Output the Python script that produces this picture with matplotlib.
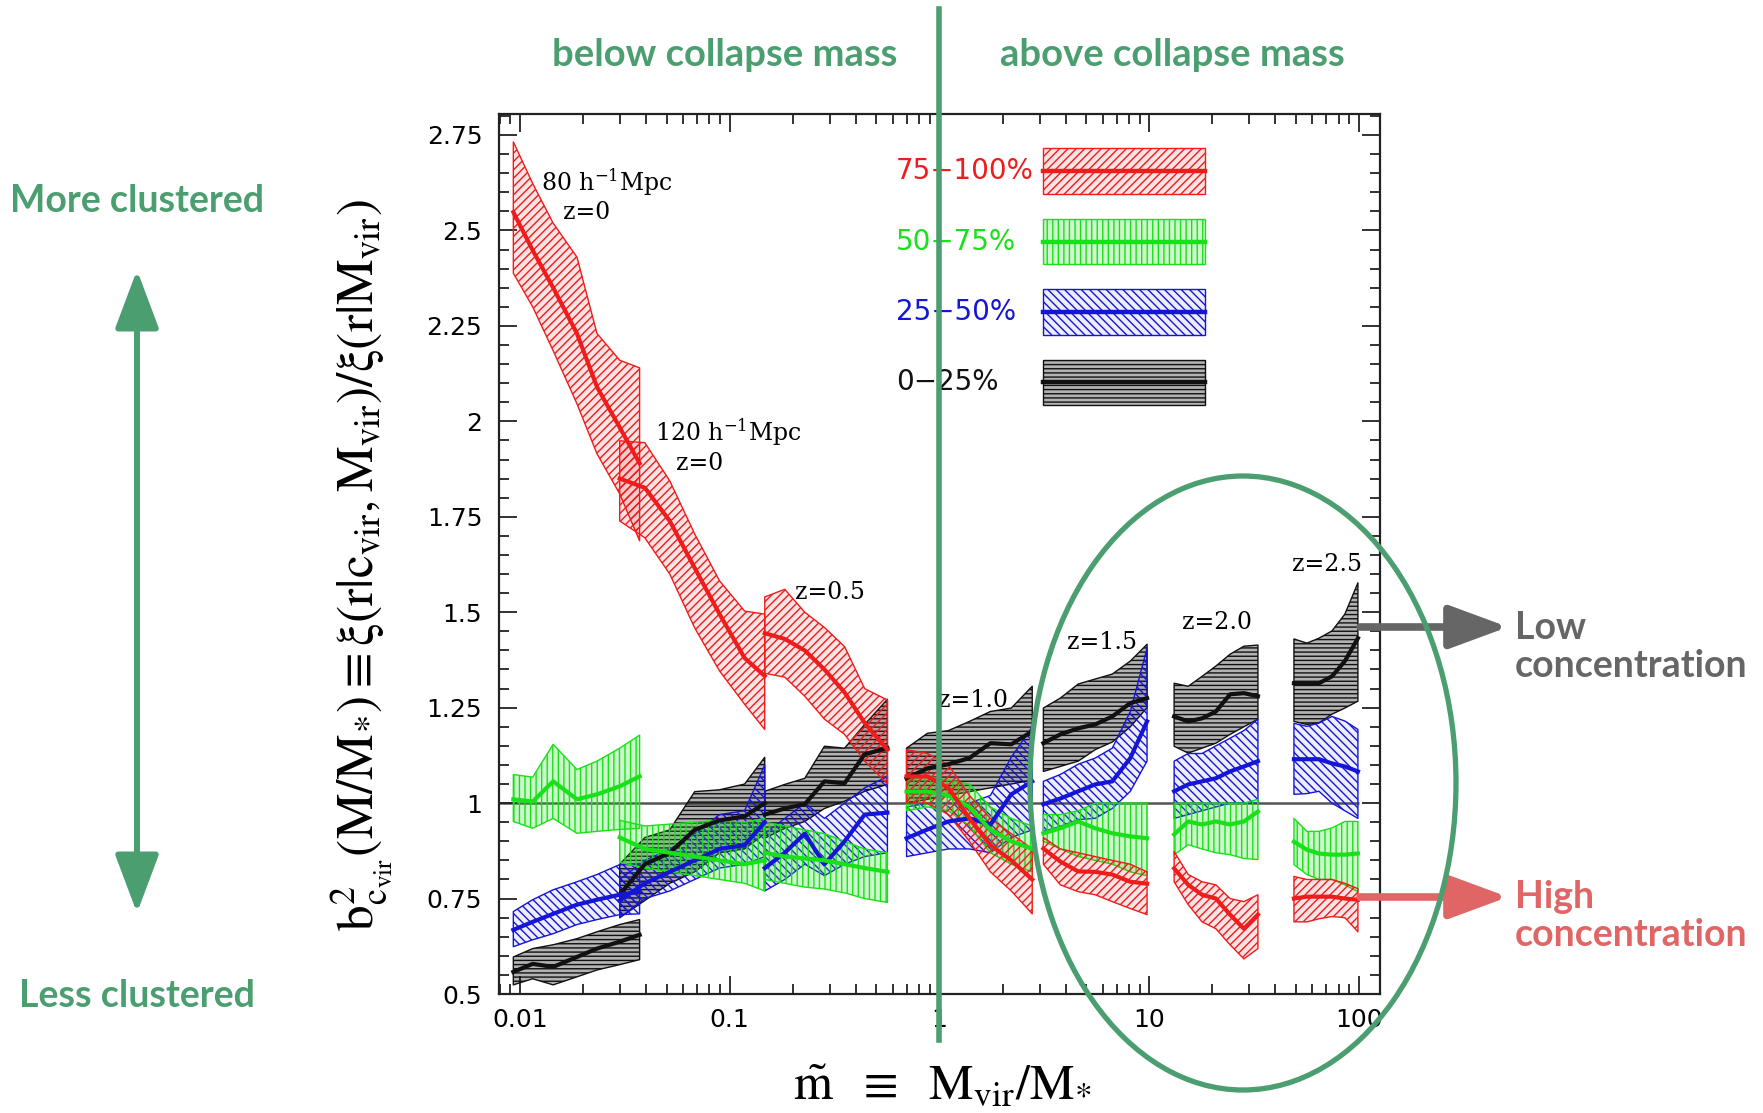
import matplotlib
matplotlib.use("Agg")
import matplotlib.pyplot as plt
from matplotlib.patches import Ellipse, Rectangle
from matplotlib.ticker import FixedLocator, LogLocator, NullFormatter, FixedFormatter

plt.rcParams["hatch.linewidth"] = 1.0

# mass bins (M_vir / M_*) of the seven box / redshift chunks
x_bins = [
    [0.0093, 0.0115, 0.0144, 0.0187, 0.0233, 0.0299, 0.0372],   # 80 Mpc, z=0
    [0.0299, 0.0394, 0.0518, 0.0681, 0.0895, 0.1178, 0.1469],   # 120 Mpc, z=0
    [0.147, 0.183, 0.228, 0.283, 0.353, 0.44, 0.565],           # z=0.5
    [0.697, 0.877, 1.104, 1.39, 1.75, 2.20, 2.77],              # z=1.0
    [3.13, 3.77, 4.59, 5.53, 6.67, 8.13, 9.77],                 # z=1.5
    [13.15, 15.35, 17.87, 20.8, 24.3, 28.3, 33.0],              # z=2.0
    [49.0, 56.5, 64.5, 74.4, 85.7, 98.9],                       # z=2.5
]

# 75-100% quartile (red)
red_mid = [
    [2.548, 2.448, 2.35, 2.23, 2.09, 1.984, 1.89],
    [1.850, 1.826, 1.739, 1.616, 1.495, 1.380, 1.333],
    [1.445, 1.43, 1.40, 1.35, 1.29, 1.21, 1.14],
    [1.07, 1.07, 1.04, 0.96, 0.89, 0.85, 0.80],
    [0.881, 0.847, 0.821, 0.82, 0.813, 0.794, 0.789],
    [0.829, 0.786, 0.760, 0.750, 0.708, 0.671, 0.708],
    [0.750, 0.755, 0.755, 0.755, 0.750, 0.747],
]
red_hi = [
    [2.732, 2.623, 2.519, 2.43, 2.23, 2.16, 2.14],
    [1.949, 1.944, 1.844, 1.705, 1.582, 1.503, 1.495],
    [1.54, 1.56, 1.50, 1.46, 1.41, 1.30, 1.27],
    [1.14, 1.13, 1.10, 1.02, 0.96, 0.92, 0.88],
    [0.91, 0.88, 0.87, 0.86, 0.85, 0.84, 0.82],
    [0.873, 0.813, 0.794, 0.786, 0.750, 0.742, 0.760],
    [0.808, 0.800, 0.800, 0.80, 0.79, 0.776],
]
red_lo = [
    [2.388, 2.30, 2.185, 2.046, 1.915, 1.81, 1.687],
    [1.739, 1.695, 1.600, 1.459, 1.346, 1.259, 1.193],
    [1.34, 1.33, 1.28, 1.22, 1.18, 1.11, 1.05],
    [1.00, 1.00, 0.97, 0.90, 0.82, 0.77, 0.71],
    [0.84, 0.786, 0.768, 0.760, 0.742, 0.724, 0.708],
    [0.794, 0.734, 0.689, 0.671, 0.629, 0.592, 0.619],
    [0.689, 0.689, 0.697, 0.703, 0.70, 0.663],
]

# 50-75% quartile (green)
green_mid = [
    [1.010, 1.004, 1.057, 1.010, 1.023, 1.044, 1.070],
    [0.91, 0.88, 0.87, 0.86, 0.85, 0.84, 0.85],
    [0.87, 0.86, 0.855, 0.85, 0.84, 0.83, 0.82],
    [1.03, 1.03, 1.02, 0.99, 0.93, 0.90, 0.88],
    [0.921, 0.934, 0.952, 0.934, 0.921, 0.913, 0.908],
    [0.918, 0.952, 0.944, 0.952, 0.944, 0.952, 0.978],
    [0.899, 0.878, 0.868, 0.865, 0.865, 0.868],
]
green_hi = [
    [1.075, 1.068, 1.154, 1.088, 1.110, 1.144, 1.178],
    [0.955, 0.94, 0.945, 0.95, 0.955, 0.95, 0.96],
    [0.95, 0.94, 0.93, 0.92, 0.90, 0.88, 0.87],
    [1.06, 1.07, 1.06, 1.05, 0.99, 0.96, 0.94],
    [0.97, 0.97, 0.98, 1.00, 1.00, 1.00, 1.00],
    [1.0, 1.0, 1.0, 1.0, 1.0, 1.0, 1.01],
    [0.960, 0.926, 0.926, 0.935, 0.952, 0.952],
]
green_lo = [
    [0.952, 0.934, 0.960, 0.921, 0.926, 0.931, 0.934],
    [0.845, 0.83, 0.82, 0.81, 0.80, 0.79, 0.77],
    [0.80, 0.79, 0.78, 0.775, 0.765, 0.75, 0.74],
    [0.98, 0.99, 0.98, 0.94, 0.87, 0.84, 0.82],
    [0.90, 0.88, 0.86, 0.85, 0.84, 0.82, 0.81],
    [0.865, 0.891, 0.88, 0.87, 0.865, 0.855, 0.852],
    [0.839, 0.813, 0.80, 0.80, 0.786, 0.768],
]

# 25-50% quartile (blue)
blue_mid = [
    [0.668, 0.689, 0.710, 0.734, 0.747, 0.760, 0.768],
    [0.745, 0.79, 0.82, 0.85, 0.88, 0.89, 0.95],
    [0.83, 0.87, 0.92, 0.84, 0.90, 0.97, 0.975],
    [0.908, 0.931, 0.952, 0.960, 0.944, 1.023, 1.057],
    [0.997, 1.012, 1.031, 1.049, 1.057, 1.118, 1.214],
    [1.031, 1.049, 1.057, 1.065, 1.083, 1.096, 1.110],
    [1.115, 1.115, 1.115, 1.104, 1.096, 1.083],
]
blue_hi = [
    [0.716, 0.747, 0.773, 0.794, 0.813, 0.839, 0.842],
    [0.80, 0.85, 0.88, 0.92, 0.97, 0.98, 1.10],
    [0.92, 0.96, 1.00, 0.96, 1.00, 1.04, 1.07],
    [0.99, 1.0, 1.0, 1.0, 1.02, 1.12, 1.20],
    [1.057, 1.075, 1.102, 1.118, 1.144, 1.240, 1.406],
    [1.11, 1.13, 1.13, 1.15, 1.17, 1.19, 1.22],
    [1.209, 1.201, 1.21, 1.227, 1.215, 1.193],
]
blue_lo = [
    [0.624, 0.642, 0.658, 0.682, 0.695, 0.708, 0.710],
    [0.70, 0.75, 0.77, 0.80, 0.83, 0.84, 0.86],
    [0.77, 0.80, 0.84, 0.81, 0.84, 0.86, 0.87],
    [0.86, 0.87, 0.88, 0.88, 0.87, 0.91, 0.93],
    [0.926, 0.939, 0.957, 0.960, 0.986, 1.031, 1.110],
    [0.96, 0.97, 0.98, 0.99, 1.0, 1.0, 1.0],
    [1.023, 1.025, 1.031, 1.0, 0.98, 0.960],
]

# 0-25% quartile (black)
black_mid = [
    [0.558, 0.579, 0.571, 0.597, 0.619, 0.637, 0.655],
    [0.76, 0.84, 0.87, 0.93, 0.955, 0.965, 1.00],
    [0.970, 0.986, 0.997, 1.057, 1.052, 1.128, 1.144],
    [1.065, 1.091, 1.102, 1.118, 1.157, 1.154, 1.188],
    [1.157, 1.180, 1.196, 1.206, 1.227, 1.262, 1.275],
    [1.227, 1.214, 1.222, 1.240, 1.285, 1.288, 1.280],
    [1.314, 1.312, 1.314, 1.332, 1.372, 1.432],
]
black_hi = [
    [0.597, 0.619, 0.629, 0.645, 0.663, 0.682, 0.695],
    [0.84, 0.91, 0.93, 1.03, 1.035, 1.05, 1.12],
    [1.031, 1.049, 1.065, 1.149, 1.144, 1.206, 1.272],
    [1.144, 1.183, 1.19, 1.214, 1.240, 1.249, 1.306],
    [1.249, 1.275, 1.312, 1.325, 1.338, 1.372, 1.416],
    [1.314, 1.306, 1.332, 1.359, 1.390, 1.411, 1.414],
    [1.430, 1.419, 1.432, 1.451, 1.495, 1.577],
]
black_lo = [
    [0.524, 0.540, 0.524, 0.545, 0.563, 0.577, 0.590],
    [0.70, 0.745, 0.79, 0.82, 0.87, 0.88, 0.92],
    [0.908, 0.934, 0.952, 0.986, 1.005, 1.031, 1.049],
    [1.00, 1.01, 1.02, 1.03, 1.04, 1.05, 1.06],
    [1.083, 1.096, 1.110, 1.14, 1.16, 1.20, 1.25],
    [1.149, 1.131, 1.144, 1.157, 1.18, 1.20, 1.22],
    [1.214, 1.206, 1.21, 1.233, 1.249, 1.267],
]

quartile_labels = ["75\u2212100%", "50\u221275%", "25\u221250%", "0\u221225%"]
quartile_colors = ["#ee1c1c", "#19e019", "#1515d6", "#111111"]
quartile_hatch = ["////", "|||", "\\\\\\\\", "----"]
quartile_face = [(0.93, 0.1, 0.1, 0.12), (0.1, 0.88, 0.1, 0.22),
                 (0.1, 0.1, 0.85, 0.08), (0.0, 0.0, 0.0, 0.30)]
mids = [red_mid, green_mid, blue_mid, black_mid]
his = [red_hi, green_hi, blue_hi, black_hi]
los = [red_lo, green_lo, blue_lo, black_lo]

# annotation labels and their spots (axes fraction)
chunk_labels = ["80 h$^{-1}$Mpc", "z=0", "120 h$^{-1}$Mpc", "z=0", "z=0.5",
                "z=1.0", "z=1.5", "z=2.0", "z=2.5"]
chunk_pos = [(0.122, 0.922), (0.100, 0.888), (0.260, 0.638), (0.228, 0.603),
             (0.376, 0.456), (0.538, 0.334), (0.685, 0.399), (0.815, 0.422),
             (0.940, 0.488)]

yticks = [0.5, 0.75, 1.0, 1.25, 1.5, 1.75, 2.0, 2.25, 2.5, 2.75]
ytick_labels = ["0.5", "0.75", "1", "1.25", "1.5", "1.75", "2", "2.25", "2.5", "2.75"]
xticks = [0.01, 0.1, 1, 10, 100]
xtick_labels = ["0.01", "0.1", "1", "10", "100"]

green = "#4b9e6f"
grey = "#666666"
pink = "#e06666"

fig = plt.figure(figsize=(17.63, 11.13), dpi=100)
ax = fig.add_axes([0.283, 0.1069, 0.4997, 0.7907])
ax.set_xscale("log")
ax.set_xlim(0.00794, 125.9)
ax.set_ylim(0.5, 2.805)

# bands: black first, red last
for q in [3, 2, 1, 0]:
    for g, xs in enumerate(x_bins):
        ax.fill_between(xs, los[q][g], his[q][g], facecolor=quartile_face[q],
                        edgecolor=quartile_colors[q], hatch=quartile_hatch[q],
                        linewidth=1.0, zorder=2 + 0.1 * (3 - q))
for q in [3, 2, 1, 0]:
    for g, xs in enumerate(x_bins):
        ax.plot(xs, mids[q][g], color=quartile_colors[q], lw=3.0, zorder=3)

ax.hlines(1.0, 0.00794, 100, color="#555555", lw=1.8, zorder=1.5)

# legend drawn by hand: label left, hatched box right
for i in range(4):
    yc = 0.935 - 0.080 * i
    ax.add_patch(Rectangle((0.6175, yc - 0.026), 0.184, 0.052, transform=ax.transAxes,
                           facecolor=quartile_face[i], edgecolor=quartile_colors[i],
                           hatch=quartile_hatch[i], lw=1.0, zorder=4))
    ax.plot([0.6175, 0.8015], [yc, yc], transform=ax.transAxes,
            color=quartile_colors[i], lw=3.2, zorder=5)
    ax.text(0.4506, yc, quartile_labels[i], transform=ax.transAxes, color=quartile_colors[i],
            ha="left", va="center", fontsize=20, family="DejaVu Sans", zorder=5)

for lab, (fx, fy) in zip(chunk_labels, chunk_pos):
    ax.text(fx, fy, lab, transform=ax.transAxes, ha="center", va="center",
            fontsize=17, family="DejaVu Serif", math_fontfamily="dejavuserif", zorder=6)

# ticks
ax.yaxis.set_major_locator(FixedLocator(yticks))
ax.yaxis.set_major_formatter(FixedFormatter(ytick_labels))
ax.yaxis.set_minor_locator(FixedLocator([0.5 + 0.05 * k for k in range(47)]))
ax.xaxis.set_major_locator(FixedLocator(xticks))
ax.xaxis.set_major_formatter(FixedFormatter(xtick_labels))
ax.xaxis.set_minor_locator(LogLocator(base=10, subs=range(2, 10), numticks=20))
ax.xaxis.set_minor_formatter(NullFormatter())
ax.tick_params(which="both", direction="in", top=True, right=True, width=1.3,
               labelsize=18, color="#222222")
ax.tick_params(which="major", length=13)
ax.tick_params(which="minor", length=7)
ax.tick_params(axis="y", pad=12)
ax.tick_params(axis="x", pad=10)
for s in ax.spines.values():
    s.set_linewidth(1.6)
    s.set_color("#222222")

# axis titles
fig.text(0.2048, 0.4924,
         r"$\mathrm{b^2_{c_{vir}}(M/M_{*})\equiv\xi(r|c_{vir},M_{vir})/\xi(r|M_{vir})}$",
         rotation=90, ha="center", va="center", fontsize=37, math_fontfamily="stix")
fig.text(0.5343, 0.0251, r"$\tilde{\mathrm{m}}\ \ \equiv\ \ \mathrm{M_{vir}/M_{*}}$",
         ha="center", va="center", fontsize=36, math_fontfamily="stix")

# collapse-mass divider
ax.axvline(1.0, ymin=-0.052, ymax=1.119, color=green, lw=4, clip_on=False, zorder=7)
fig.text(0.411, 0.951, "below collapse mass", color=green, fontsize=27.5,
         family="Lato", weight="bold", ha="center", va="center")
fig.text(0.665, 0.951, "above collapse mass", color=green, fontsize=27.5,
         family="Lato", weight="bold", ha="center", va="center")

# clustering arrow on the left
fig.text(0.0777, 0.819, "More clustered", color=green, fontsize=27,
         family="Lato", weight="bold", ha="center", va="center")
fig.text(0.0777, 0.105, "Less clustered", color=green, fontsize=27,
         family="Lato", weight="bold", ha="center", va="center")
ax.annotate("", xy=(137, 1113 - 270), xytext=(137, 1113 - 913),
            xycoords="figure pixels", textcoords="figure pixels",
            arrowprops=dict(arrowstyle="<|-|>,head_length=3.6,head_width=1.35",
                            color=green, lw=4.3, shrinkA=0, shrinkB=0, mutation_scale=10))

# high-mass ellipse
fig.add_artist(Ellipse((1243 / 1763, 1 - 783 / 1113), 426 / 1763, 614 / 1113,
                       transform=fig.transFigure, fill=False, edgecolor=green, lw=3.8))

# concentration arrows
ax.annotate("", xy=(1508, 1113 - 627), xytext=(1360, 1113 - 627),
            xycoords="figure pixels", textcoords="figure pixels",
            arrowprops=dict(arrowstyle="-|>,head_length=3.6,head_width=1.33",
                            color=grey, lw=5.5, shrinkA=0, shrinkB=0, mutation_scale=10))
ax.annotate("", xy=(1508, 1113 - 897), xytext=(1360, 1113 - 897),
            xycoords="figure pixels", textcoords="figure pixels",
            arrowprops=dict(arrowstyle="-|>,head_length=3.6,head_width=1.33",
                            color=pink, lw=5.5, shrinkA=0, shrinkB=0, mutation_scale=10))
fig.text(1515 / 1763, 1 - 647 / 1113, "Low\nconcentration", color=grey, fontsize=27,
         family="Lato", weight="bold", ha="left", va="center", linespacing=1.15)
fig.text(1515 / 1763, 1 - 916 / 1113, "High\nconcentration", color=pink, fontsize=27,
         family="Lato", weight="bold", ha="left", va="center", linespacing=1.15)

fig.savefig("out.png", dpi=100)
